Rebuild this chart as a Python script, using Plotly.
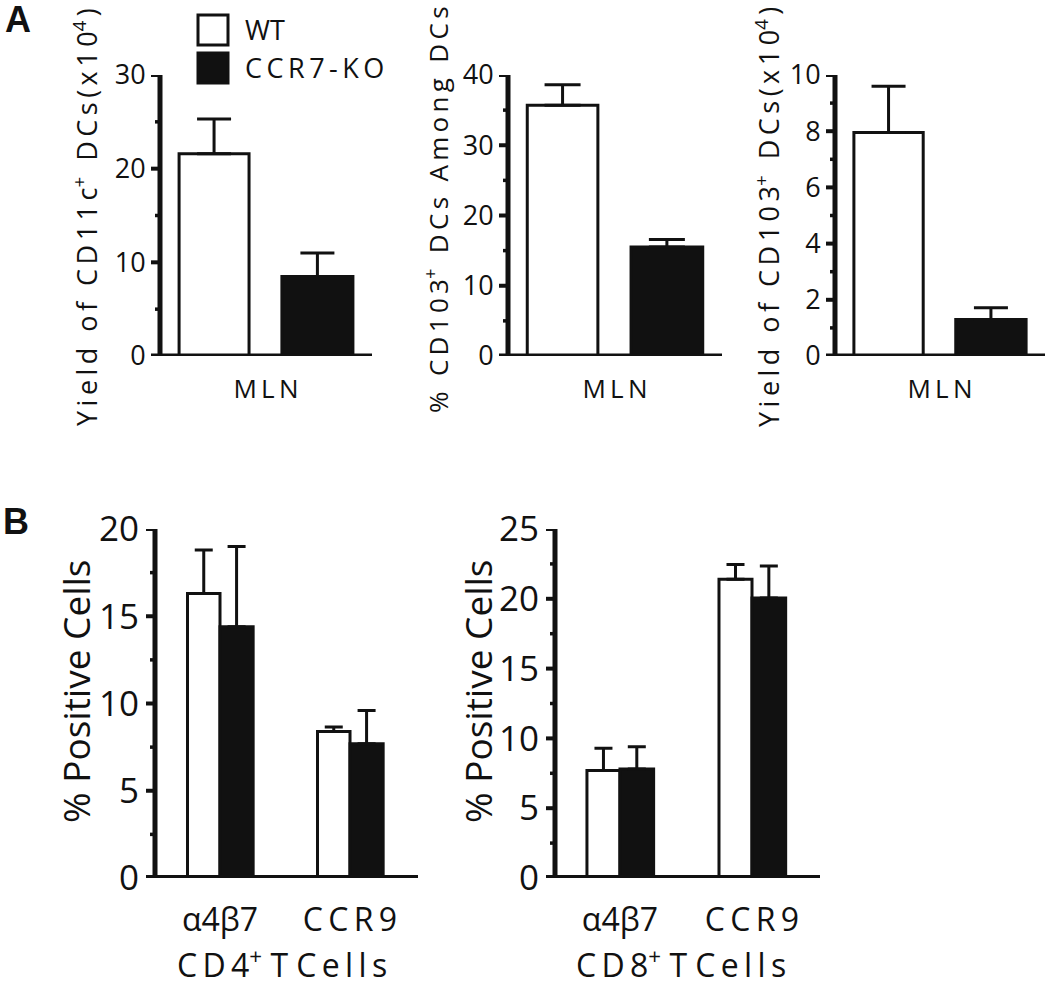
import plotly.graph_objects as go

# ---------------- data ----------------
TS = "\u2009"  # thin space used to imitate the wide letter tracking of the original


def track(s):
    return TS.join(s)


cat_A = [track("MLN")]
wt_cd11c_yield = [21.6]
wt_cd11c_err = [3.7]
ko_cd11c_yield = [8.5]
ko_cd11c_err = [2.5]

wt_cd103_pct = [35.7]
wt_cd103_pct_err = [2.9]
ko_cd103_pct = [15.5]
ko_cd103_pct_err = [1.1]

wt_cd103_yield = [7.95]
wt_cd103_yield_err = [1.65]
ko_cd103_yield = [1.3]
ko_cd103_yield_err = [0.42]

cat_B = ["α4β7", track("CCR9")]
wt_cd4 = [16.3, 8.4]
wt_cd4_err = [2.5, 0.25]
ko_cd4 = [14.4, 7.7]
ko_cd4_err = [4.6, 1.9]

wt_cd8 = [7.7, 21.4]
wt_cd8_err = [1.6, 1.05]
ko_cd8 = [7.8, 20.05]
ko_cd8_err = [1.6, 2.3]

series_names = ["WT", track("CCR7-KO")]

W_ = " " + TS + TS  # word gap
title_A1 = (track("Yield") + W_ + track("of") + W_ + track("CD11c") + "<sup>+</sup>" + W_
            + track("DCs(x10") + "<sup>4</sup>" + TS + ")")
title_A2 = ("%" + W_ + track("CD103") + "<sup>+</sup>" + W_ + track("DCs") + W_
            + track("Among") + W_ + track("DCs"))
title_A3 = (track("Yield") + W_ + track("of") + W_ + track("CD103") + "<sup>+</sup>" + W_
            + track("DCs(x10") + "<sup>4</sup>" + TS + ")")
title_B = "% Positive Cells"
group_B1 = track("CD4") + "<sup>+</sup> T " + track("Cells")
group_B2 = track("CD8") + "<sup>+</sup> T " + track("Cells")

# axis scales: (x axis, y axis, y max, major step, minor step, number of categories or 0)
axes_spec = [
    ("x", "y", 30, 10, 5, 0),
    ("x2", "y2", 40, 10, 5, 0),
    ("x3", "y3", 10, 2, 1, 0),
    ("x4", "y4", 20, 5, 2.5, 2),
    ("x5", "y5", 25, 5, 2.5, 2),
]

# ---------------- style ----------------
W, H = 1050, 985
FONT = "Open Sans"
BLACK = "#111111"
CLEAR = "rgba(0,0,0,0)"
BAR_LW = 3
ERR_LW = 3


def px_x(p):
    return p / W


def px_y(p):
    return 1 - p / H


fig = go.Figure()


def add_pair(xa, ya, cats, wt, wt_err, ko, ko_err, offs, widths, capw):
    fig.add_trace(go.Bar(
        x=cats, y=wt, name=series_names[0], xaxis=xa, yaxis=ya,
        offset=offs[0], width=widths[0],
        marker=dict(color="white", line=dict(color=BLACK, width=BAR_LW)),
        error_y=dict(type="data", array=wt_err, arrayminus=[0] * len(wt),
                     symmetric=False, color=BLACK, thickness=ERR_LW, width=capw),
        showlegend=False, hoverinfo="skip"))
    fig.add_trace(go.Bar(
        x=cats, y=ko, name=series_names[1], xaxis=xa, yaxis=ya,
        offset=offs[1], width=widths[1],
        marker=dict(color=BLACK, line=dict(color=BLACK, width=BAR_LW)),
        error_y=dict(type="data", array=ko_err, arrayminus=[0] * len(ko),
                     symmetric=False, color=BLACK, thickness=ERR_LW, width=capw),
        showlegend=False, hoverinfo="skip"))


A_offs = (-0.41, 0.075)
A_w = (0.33, 0.335)
B_offs = (-0.25, 0.0)
B_w = (0.25, 0.255)

add_pair("x", "y", cat_A, wt_cd11c_yield, wt_cd11c_err, ko_cd11c_yield, ko_cd11c_err, A_offs, A_w, 17)
add_pair("x2", "y2", cat_A, wt_cd103_pct, wt_cd103_pct_err, ko_cd103_pct, ko_cd103_pct_err, A_offs, A_w, 18)
add_pair("x3", "y3", cat_A, wt_cd103_yield, wt_cd103_yield_err, ko_cd103_yield, ko_cd103_yield_err, A_offs, A_w, 17)
add_pair("x4", "y4", cat_B, wt_cd4, wt_cd4_err, ko_cd4, ko_cd4_err, B_offs, B_w, 9)
add_pair("x5", "y5", cat_B, wt_cd8, wt_cd8_err, ko_cd8, ko_cd8_err, B_offs, B_w, 9)


def yax(domain, rng, dtick, size, anchor):
    # tick labels from plotly; lines and tick marks drawn as shapes below
    return dict(domain=domain, range=rng, dtick=dtick, tick0=0, anchor=anchor,
                tickmode="linear", automargin=False, showline=False,
                ticks="outside", ticklen=8, tickwidth=1, tickcolor=CLEAR,
                showgrid=False, zeroline=False,
                tickfont=dict(family=FONT, size=size, color=BLACK), fixedrange=True)


def xax(domain, rng, size, ticklen, anchor):
    return dict(domain=domain, range=rng, type="category", anchor=anchor, automargin=False,
                showline=False, ticks="outside", ticklen=ticklen, tickwidth=1, tickcolor=CLEAR,
                showgrid=False, zeroline=False,
                tickfont=dict(family=FONT, size=size, color=BLACK), fixedrange=True)


A_ydom = [px_y(356), px_y(75)]
B_ydom = [px_y(878), px_y(529)]

fig.update_layout(
    template="none",
    width=W, height=H, autosize=False,
    margin=dict(l=0, r=0, t=0, b=0, pad=0, autoexpand=False),
    paper_bgcolor="white", plot_bgcolor="white",
    barmode="overlay", showlegend=False,
    font=dict(family=FONT, color=BLACK),
    xaxis=xax([px_x(160), px_x(372)], [-0.5, 0.5], 26, 10, "y"),
    yaxis=yax(A_ydom, [0, 30], 10, 27, "x"),
    xaxis2=xax([px_x(508), px_x(722)], [-0.5, 0.5], 26, 10, "y2"),
    yaxis2=yax(A_ydom, [0, 40], 10, 27, "x2"),
    xaxis3=xax([px_x(835), px_x(1045)], [-0.5, 0.5], 26, 10, "y3"),
    yaxis3=yax(A_ydom, [0, 10], 2, 27, "x3"),
    xaxis4=xax([px_x(155), px_x(418)], [-0.5, 1.523], 32, 14, "y4"),
    yaxis4=yax(B_ydom, [0, 20], 5, 35, "x4"),
    xaxis5=xax([px_x(555), px_x(820)], [-0.492, 1.515], 32, 14, "y5"),
    yaxis5=yax(B_ydom, [0, 25], 5, 35, "x5"),
)

# ---------------- axis lines and tick marks ----------------
shapes = []
for xr, yr, ymax, major, minor, ncat in axes_spec:
    xd = xr + " domain"
    lw = 6 if ncat else 5
    # y axis line
    shapes.append(dict(type="line", xref=xd, yref=yr, x0=0, x1=0, y0=0, y1=ymax,
                       line=dict(color=BLACK, width=5), layer="above"))
    # x axis line (starts a little left of the y axis, like the original)
    shapes.append(dict(type="line", xref=xd, yref=yr, xsizemode="pixel", xanchor=0,
                       x0=-9, x1=0, y0=0, y1=0, line=dict(color=BLACK, width=lw), layer="above"))
    shapes.append(dict(type="line", xref=xd, yref=yr, x0=0, x1=1, y0=0, y1=0,
                       line=dict(color=BLACK, width=lw), layer="above"))
    nmaj = int(round(ymax / major))
    for i in range(1, nmaj + 1):
        v = i * major
        shapes.append(dict(type="line", xref=xd, yref=yr, xsizemode="pixel", xanchor=0,
                           x0=-9, x1=0, y0=v, y1=v, line=dict(color=BLACK, width=4),
                           layer="above"))
    nmin = int(round(ymax / minor))
    for i in range(1, nmin):
        v = i * minor
        if abs(v / major - round(v / major)) < 1e-9:
            continue
        shapes.append(dict(type="line", xref=xd, yref=yr, xsizemode="pixel", xanchor=0,
                           x0=-5, x1=0, y0=v, y1=v, line=dict(color=BLACK, width=3.5),
                           layer="above"))
    for c in range(ncat):
        shapes.append(dict(type="line", xref=xr, yref=yr, ysizemode="pixel", yanchor=0,
                           x0=c, x1=c, y0=0, y1=-12, line=dict(color=BLACK, width=4.5),
                           layer="above"))

# legend boxes
shapes += [
    dict(type="rect", xref="paper", yref="paper",
         x0=px_x(198), x1=px_x(228), y0=px_y(45), y1=px_y(15),
         line=dict(color=BLACK, width=3), fillcolor="white"),
    dict(type="rect", xref="paper", yref="paper",
         x0=px_x(198), x1=px_x(228), y0=px_y(83), y1=px_y(53),
         line=dict(color=BLACK, width=3), fillcolor=BLACK),
]
fig.update_layout(shapes=shapes)

annotations = []


def ann(text, xp, yp, size, angle=0, xanchor="center", bold=False, family=FONT):
    annotations.append(dict(
        text=f"<b>{text}</b>" if bold else text,
        x=px_x(xp), y=px_y(yp), xref="paper", yref="paper",
        xanchor=xanchor, yanchor="middle", textangle=angle, showarrow=False,
        font=dict(family=family, size=size, color=BLACK)))


ann(title_A1, 85, 217, 27, -90)
ann(title_A2, 437, 210, 26, -90)
ann(title_A3, 767, 217, 27, -90)
ann(title_B, 75, 692, 37, -90)
ann(title_B, 477, 692, 37, -90)
ann(group_B1, 282, 963, 32)
ann(group_B2, 681, 963, 32)
ann("A", 18, 20, 36, bold=True, family="Liberation Sans")
ann("B", 16, 521, 36, bold=True, family="Liberation Sans")
ann(series_names[0], 243, 30, 27, xanchor="left")
ann(series_names[1], 243, 68, 27, xanchor="left")

fig.update_layout(annotations=annotations)

fig.write_html(
    "out.html",
    config={"displayModeBar": False, "staticPlot": True},
    post_script="document.body.style.margin='0';document.body.style.overflow='hidden';",
)
